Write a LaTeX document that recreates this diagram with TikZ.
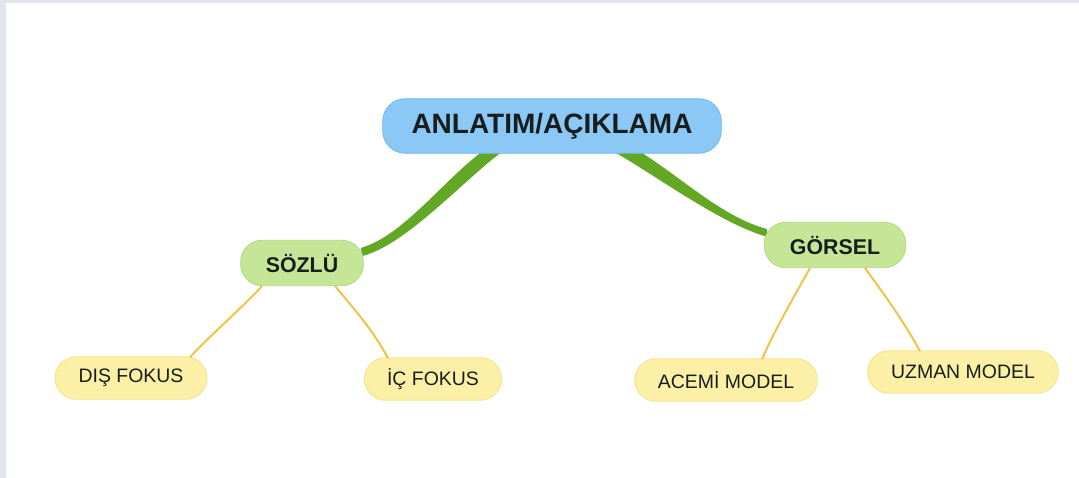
\documentclass[tikz,border=0pt]{standalone}
\usepackage{fontspec}
\setmainfont{Liberation Sans}
\usetikzlibrary{calc,backgrounds}
\definecolor{rootblue}{RGB}{140,200,246}
\definecolor{rootline}{RGB}{120,182,232}
\definecolor{midgreen}{RGB}{196,230,150}
\definecolor{midline}{RGB}{178,216,128}
\definecolor{leafyellow}{RGB}{251,240,165}
\definecolor{leafline}{RGB}{242,228,140}
\definecolor{branchgreen}{RGB}{98,168,36}
\definecolor{twigyellow}{RGB}{240,196,70}
\definecolor{textdark}{RGB}{22,30,30}
\definecolor{paneledge}{RGB}{226,230,236}
\begin{document}
\begin{tikzpicture}[x=0.75pt,y=-0.75pt,
  rootbox/.style={rectangle,rounded corners=17pt,fill=rootblue,draw=rootline,line width=0.6pt,
    minimum width=254pt,minimum height=41pt,text=textdark,font=\fontsize{21}{24}\selectfont\bfseries},
  midbox/.style={rectangle,rounded corners=16pt,fill=midgreen,draw=midline,line width=0.6pt,
    minimum height=34pt,text=textdark,font=\fontsize{16}{19}\selectfont\bfseries},
  leafbox/.style={rectangle,rounded corners=16pt,fill=leafyellow,draw=leafline,line width=0.6pt,
    minimum height=32pt,text=textdark,font=\fontsize{14.6}{17}\selectfont},
  branch/.style={fill=branchgreen},
  twig/.style={draw=twigyellow,line width=1.5pt}]
\useasboundingbox (0,0) rectangle (1079,478);
\begin{scope}[on background layer]
\fill[paneledge] (0,0) rectangle (1079,478);
\fill[white] (6,3) rectangle (1079,478);
\end{scope}

% nodes
\node[rootbox] (root) at (552,126) {ANLATIM/AÇIKLAMA};
\node[midbox,minimum width=92pt] (sozlu) at (302,263) {SÖZLÜ};
\node[midbox,minimum width=106pt] (gorsel) at (835,245) {GÖRSEL};
\node[leafbox,minimum width=114pt] (dis) at (131,378) {DIŞ FOKUS};
\node[leafbox,minimum width=103pt] (ic) at (433,379) {İÇ FOKUS};
\node[leafbox,minimum width=137pt] (acemi) at (726,380) {ACEMİ MODEL};
\node[leafbox,minimum width=143pt] (uzman) at (963,372) {UZMAN MODEL};

% main branches
\begin{scope}[on background layer]
\fill[branch] ($(root.south)+(-70,-2)$) .. controls +(-40,30) and +(42,-12) .. ($(sozlu.east)+(-3,-15)$)
  -- ($(sozlu.east)+(-1,-7)$) .. controls +(44,-12) and +(-40,30) .. ($(root.south)+(-50,-2)$) -- cycle;
\fill[branch] ($(root.south)+(62,-2)$) .. controls +(45,26) and +(-45,-12) .. ($(gorsel.west)+(4,-8)$)
  -- ($(gorsel.west)+(3,-16)$) .. controls +(-45,-12) and +(42,26) .. ($(root.south)+(88,-2)$) -- cycle;
\end{scope}

% sub branches
\draw[twig] ($(sozlu.south)+(-40,0)$) .. controls +(-20,22) and +(20,-22) .. ($(dis.north)+(59,1)$);
\draw[twig] ($(sozlu.south)+(33,0)$) .. controls +(18,22) and +(-16,-30) .. ($(ic.north)+(-45,1)$);
\draw[twig] ($(gorsel.south)+(-25,0)$) .. controls +(-14,25) and +(12,-28) .. ($(acemi.north)+(36,1)$);
\draw[twig] ($(gorsel.south)+(30,0)$) .. controls +(16,22) and +(-16,-30) .. ($(uzman.north)+(-43,1)$);
\end{tikzpicture}
\end{document}
